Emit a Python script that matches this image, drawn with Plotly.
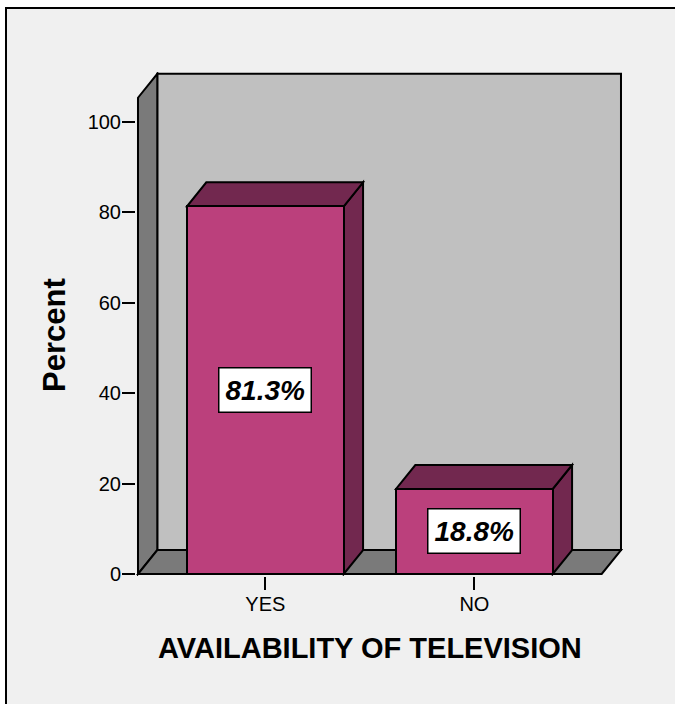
import plotly.graph_objects as go

# ---- data ----
categories = ["YES", "NO"]
percent_values = [81.3, 18.8]
y_tick_values = [0, 20, 40, 60, 80, 100]
x_title = "AVAILABILITY OF TELEVISION"
y_title = "Percent"

# ---- style / geometry constants ----
W, H = 675, 704
FRONT_COLOR = "#BB407C"
DARK_COLOR = "#72284F"
WALL_COLOR = "#C0C0C0"
SIDE_COLOR = "#7A7A7A"
BG_COLOR = "#F0F0F0"
FONT = "Liberation Sans, Arial, sans-serif"

BAR_W = 0.75
X0 = -0.6096       # front-left edge of the 3D box
DX = 0.0923        # depth offset in x units
XRB = 1.7014       # back-right edge
XRF = XRB - DX     # front-right edge of floor
YTOP = 110.6       # back-wall top
DY = 5.3           # depth offset in y units
XR = [-0.6191, 1.711]
YR = [-0.442, 110.99]
ML, MR, MT, MB = 136, 52, 72, 128


def path(pts, close=True):
    return "M " + " L ".join(f"{x},{y}" for x, y in pts) + (" Z" if close else "")


xs = list(range(len(categories)))

shapes = []
# frame / background (paper coords)
pw = W - ML - MR
ph = H - MT - MB
fx0, fx1 = (6 - ML) / pw, (W + 20 - ML) / pw
fy0, fy1 = (H - MB - H - 20) / ph, (H - MB - 8) / ph
shapes.append(dict(type="rect", xref="paper", yref="paper",
                   x0=fx0, x1=fx1, y0=fy0, y1=fy1,
                   fillcolor=BG_COLOR, line=dict(width=0), layer="below"))
shapes.append(dict(type="path", xref="paper", yref="paper", layer="below",
                   path=path([(fx0, fy0), (fx0, fy1), (fx1, fy1)], close=False),
                   line=dict(color="black", width=2)))
ln = dict(color="black", width=2)
# back wall
shapes.append(dict(type="path", xref="x", yref="y", layer="below",
                   path=path([(X0 + DX, DY), (XRB, DY), (XRB, YTOP), (X0 + DX, YTOP)]),
                   fillcolor=WALL_COLOR, line=ln))
# left wall
shapes.append(dict(type="path", xref="x", yref="y", layer="below",
                   path=path([(X0, 0), (X0, YTOP - DY), (X0 + DX, YTOP), (X0 + DX, DY)]),
                   fillcolor=SIDE_COLOR, line=ln))
# floor
shapes.append(dict(type="path", xref="x", yref="y", layer="below",
                   path=path([(X0, 0), (XRF, 0), (XRB, DY), (X0 + DX, DY)]),
                   fillcolor=SIDE_COLOR, line=ln))
# bar 3D faces
for x, v in zip(xs, percent_values):
    l, r = x - BAR_W / 2, x + BAR_W / 2
    shapes.append(dict(type="path", xref="x", yref="y", layer="below",
                       path=path([(r, 0), (r, v), (r + DX, v + DY), (r + DX, DY)]),
                       fillcolor=DARK_COLOR, line=ln))
    shapes.append(dict(type="path", xref="x", yref="y", layer="below",
                       path=path([(l, v), (r, v), (r + DX, v + DY), (l + DX, v + DY)]),
                       fillcolor=DARK_COLOR, line=ln))

fig = go.Figure()
fig.add_trace(go.Bar(x=xs, y=percent_values, width=BAR_W,
                     marker=dict(color=FRONT_COLOR, line=dict(color="black", width=2)),
                     hoverinfo="skip", showlegend=False))

annotations = []
for x, v in zip(xs, percent_values):
    annotations.append(dict(x=x, y=v / 2, xref="x", yref="y", text=f"{v}%",
                            showarrow=False, bgcolor="white", bordercolor="black",
                            borderwidth=1.5, borderpad=6,
                            font=dict(family=FONT, size=28, color="black",
                                      weight="bold", style="italic")))
annotations.append(dict(x=(370 - ML) / pw, y=(H - MB - 648) / ph, xref="paper", yref="paper",
                        text=x_title, showarrow=False, xanchor="center", yanchor="middle",
                        font=dict(family=FONT, size=29, color="black", weight="bold")))
annotations.append(dict(x=(55 - ML) / pw, y=(H - MB - 335) / ph, xref="paper", yref="paper",
                        text=y_title, showarrow=False, textangle=-90,
                        xanchor="center", yanchor="middle",
                        font=dict(family=FONT, size=31, color="black", weight="bold")))

fig.update_layout(
    width=W, height=H,
    margin=dict(l=ML, r=MR, t=MT, b=MB, pad=0),
    paper_bgcolor="white", plot_bgcolor="rgba(0,0,0,0)",
    shapes=shapes, annotations=annotations,
    bargap=0,
    xaxis=dict(range=XR, tickvals=xs, ticktext=categories, showgrid=False,
               zeroline=False, showline=False, ticks="outside", ticklen=13,
               tickwidth=2, tickcolor="black", ticklabelstandoff=-3,
               tickfont=dict(family=FONT, size=20, color="black")),
    yaxis=dict(range=YR, tickvals=y_tick_values, showgrid=False, zeroline=False,
               showline=False, ticks="outside", ticklen=13, tickwidth=2,
               tickcolor="black", ticklabelstandoff=-3,
               tickfont=dict(family=FONT, size=20, color="black")),
)

fig.write_html("out.html", config={"displayModeBar": False},
               post_script="document.body.style.margin='0';document.body.style.padding='0';"
                           "document.documentElement.style.overflow='hidden';")
